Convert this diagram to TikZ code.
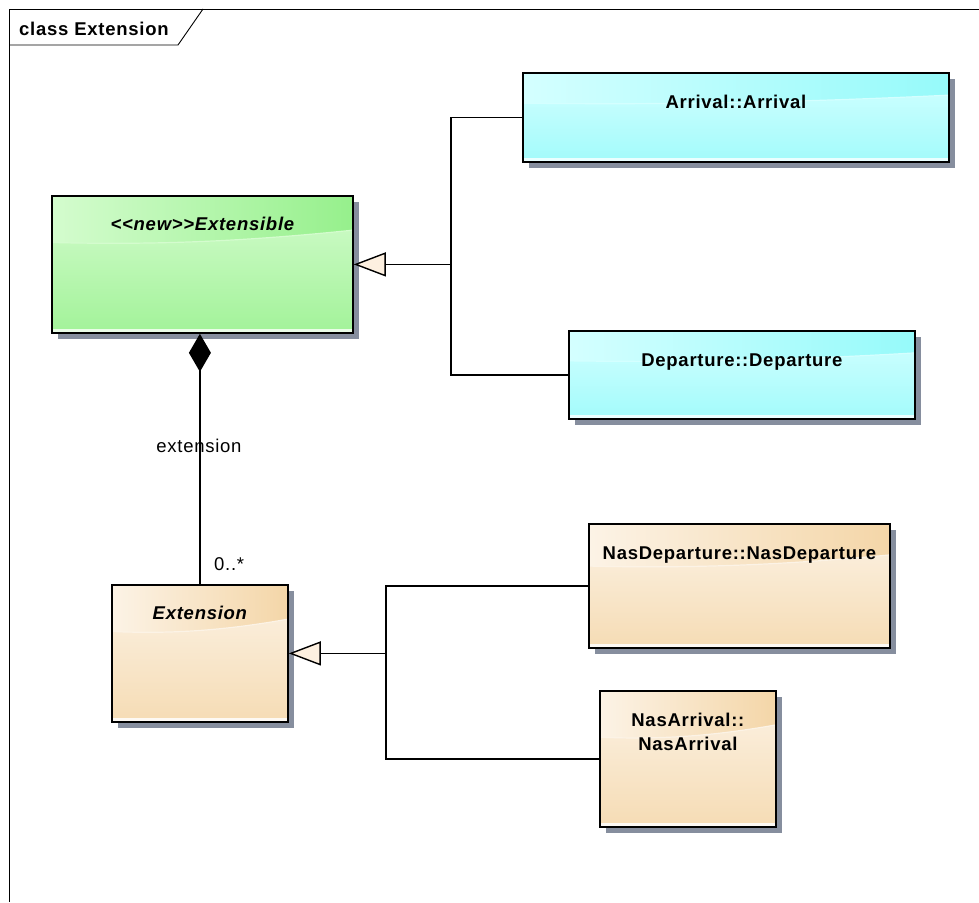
\documentclass[tikz,border=0pt]{standalone}
\usepackage{fontspec}
\setmainfont{Liberation Sans}
\newfontfamily\umlfont[LetterSpace=4]{Liberation Sans}
\usetikzlibrary{arrows.meta,calc}

% class fill colours: B = saturated tone, L = light tone
\definecolor{greenB}{RGB}{150,240,140}
\definecolor{greenL}{RGB}{212,252,206}
\definecolor{cyanB}{RGB}{150,250,250}
\definecolor{cyanL}{RGB}{212,255,255}
\definecolor{peachB}{RGB}{244,214,168}
\definecolor{peachL}{RGB}{252,243,230}
\definecolor{shadowgray}{RGB}{134,142,158}
\definecolor{tipfill}{RGB}{253,240,224}

% glossy class fill: body gradient, curved header band, light bottom strip
\newcommand\glossfill[1]{%
  \fill[top color=#1L, middle color=#1L, bottom color=#1B!80!#1L]
    (path picture bounding box.north west) rectangle (path picture bounding box.south east);
  \shade[left color=#1L, middle color=#1L, right color=#1B, draw=#1L, line width=1.2pt]
    let \p1=(path picture bounding box.north west),
        \p2=(path picture bounding box.south east),
        \n1={\y1-\y2}, \n2={\x2-\x1} in
    (\x1,\y1) -- (\x2,\y1) -- (\x2,{\y1-0.25*\n1})
    .. controls ({\x2-0.35*\n2},{\y1-0.33*\n1}) and ({\x1+0.35*\n2},{\y1-0.36*\n1})
    .. (\x1,{\y1-0.34*\n1}) -- cycle;
  \fill[#1L!50!white]
    let \p1=(path picture bounding box.north west),
        \p2=(path picture bounding box.south east) in
    (\x1,{\y2+4pt}) rectangle (\x2,\y2);
}

\tikzset{
  umlbox/.style={rectangle, draw=black, line width=1.8pt, inner sep=0pt, anchor=north west,
    preaction={fill=shadowgray, transform canvas={shift={(6pt,-6pt)}}},
    path picture={\glossfill{#1}}},
  umltitle/.style={anchor=base, inner sep=0pt, align=center,
    font=\umlfont\fontsize{18.5}{24}\selectfont\bfseries},
  umllabel/.style={inner sep=0pt, font=\umlfont\fontsize{18.5}{22}\selectfont},
  assoc/.style={line width=1.4pt},
  generalize/.style={line width=1.4pt,
    -{Triangle[length=32pt,width=24pt,fill=tipfill,line width=1.4pt]}},
  composite/.style={line width=1.4pt,
    {Diamond[length=38pt,width=22pt,line width=1.4pt]}-},
}

\begin{document}
\begin{tikzpicture}[x=1pt, y=-1pt]
\useasboundingbox (0,0) rectangle (979,902);

% diagram frame with its name tab
\draw[line width=0.9pt] (979,9) -- (9,9) -- (9,902);
\draw[line width=0.9pt] (9,45) -- (178,45) -- (203,9);
\node[umltitle, anchor=base west] (frameT) at (19,35) {class Extension};

% classes
\node[umlbox=green, minimum width=301pt, minimum height=137pt] (ext) at (51,195) {};
\node[umlbox=cyan, minimum width=426pt, minimum height=89pt] (arr) at (522,72) {};
\node[umlbox=cyan, minimum width=346pt, minimum height=88pt] (dep) at (568,330) {};
\node[umlbox=peach, minimum width=176pt, minimum height=137pt] (extn) at (111,584) {};
\node[umlbox=peach, minimum width=301pt, minimum height=124pt] (nasdep) at (588,523) {};
\node[umlbox=peach, minimum width=176pt, minimum height=136pt] (nasarr) at (599,690) {};

\node[umltitle] (extTitle) at ([yshift=-35pt]ext.north) {\itshape <<new>>Extensible};
\node[umltitle] (arrT) at ([yshift=-36pt]arr.north) {Arrival::Arrival};
\node[umltitle] (depT) at ([yshift=-36pt]dep.north) {Departure::Departure};
\node[umltitle] (extnT) at ([yshift=-35pt]extn.north) {\itshape Extension};
\node[umltitle] (nasdepT) at ([yshift=-36pt]nasdep.north) {NasDeparture::NasDeparture};
% a two-line node sits on the baseline of its last line
\node[umltitle] (nasarrT) at ([yshift=-60pt]nasarr.north) {NasArrival::\\NasArrival};

% generalization towards Extensible
\path (ext.east) -- ++(97,0) coordinate (g1);
\draw[assoc] (arr.west) -| (g1);
\draw[assoc] (dep.west) -| (g1);
\draw[generalize] (g1) -- (ext.east);

% generalization towards Extension
\path (extn.east) -- ++(97,0) coordinate (g2);
\draw[assoc] (nasdep.west) -| (g2);
\draw[assoc] (nasarr.west) -| (g2);
\draw[generalize] (g2) -- (extn.east);

% composition Extensible <>-- Extension
\draw[composite] (ext.south -| extn.north) -- (extn.north);
\node[umllabel, anchor=base] (role) at (199,452) {extension};
\node[umllabel, anchor=base west] (mult) at (214,570) {0..*};
\end{tikzpicture}
\end{document}
